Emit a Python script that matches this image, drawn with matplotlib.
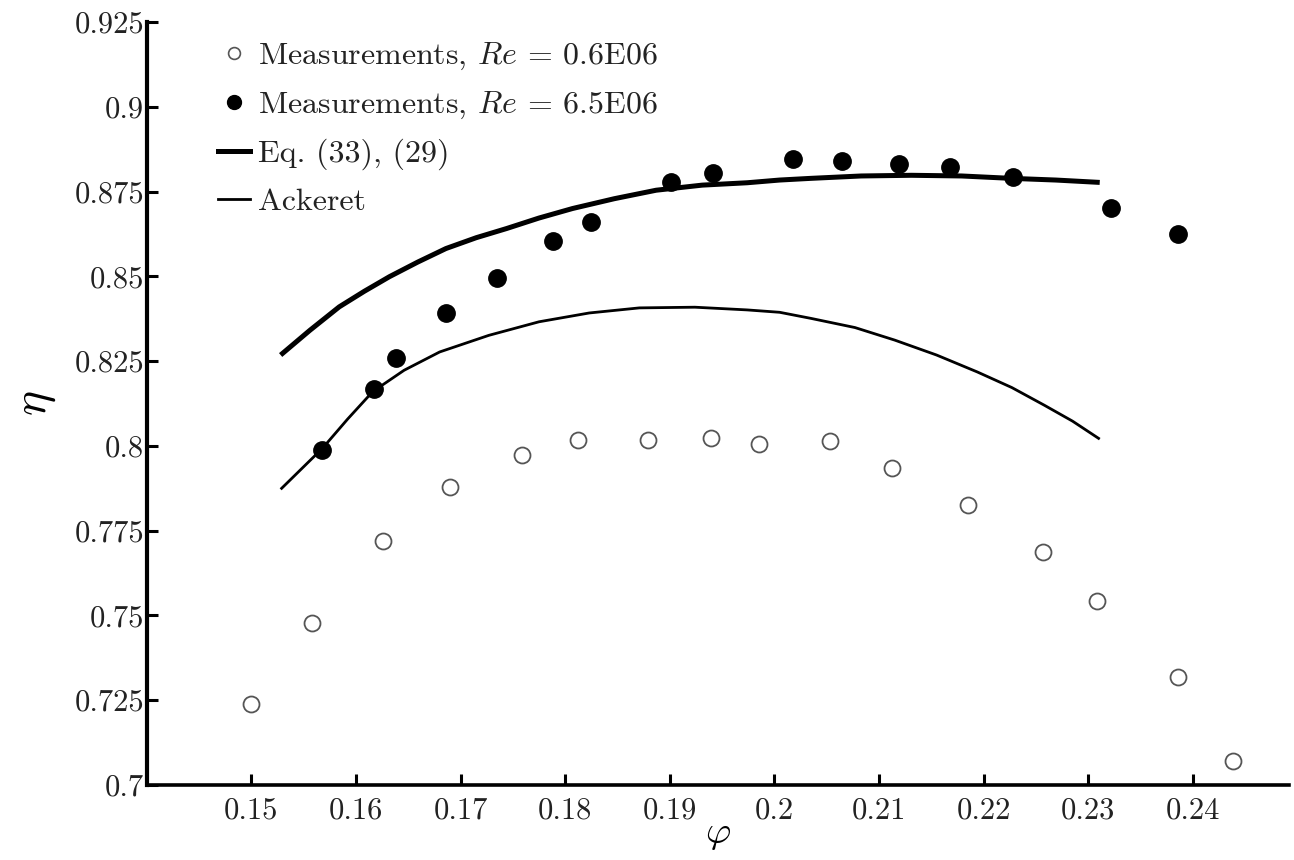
import matplotlib
matplotlib.use("Agg")
import matplotlib.pyplot as plt
from matplotlib.lines import Line2D

# ---- data ----
phi_low = [0.1500, 0.1558, 0.1626, 0.1690, 0.1759, 0.1812, 0.1879, 0.1939,
           0.1985, 0.2053, 0.2112, 0.2185, 0.2257, 0.2308, 0.2386, 0.2438]
eta_low = [0.7238, 0.7478, 0.7720, 0.7878, 0.7973, 0.8017, 0.8017, 0.8024,
           0.8007, 0.8014, 0.7934, 0.7825, 0.7686, 0.7543, 0.7319, 0.7072]

phi_high = [0.1568, 0.1617, 0.1638, 0.1686, 0.1735, 0.1788, 0.1825, 0.1901,
            0.1941, 0.2018, 0.2065, 0.2119, 0.2168, 0.2228, 0.2322, 0.2386]
eta_high = [0.7988, 0.8167, 0.8258, 0.8391, 0.8496, 0.8604, 0.8661, 0.8777,
            0.8805, 0.8846, 0.8841, 0.8831, 0.8821, 0.8793, 0.8702, 0.8624]

phi_eq = [0.1528, 0.1556, 0.1584, 0.1608, 0.1632, 0.1659, 0.1686, 0.1715,
          0.1744, 0.1775, 0.1807, 0.1847, 0.1887, 0.1931, 0.1974, 0.2005,
          0.2035, 0.2083, 0.2131, 0.2179, 0.2226, 0.2269, 0.2311]
eta_eq = [0.8268, 0.8341, 0.8410, 0.8456, 0.8499, 0.8542, 0.8582, 0.8614,
          0.8641, 0.8672, 0.8700, 0.8729, 0.8754, 0.8769, 0.8776, 0.8784,
          0.8789, 0.8796, 0.8798, 0.8796, 0.8789, 0.8784, 0.8777]

phi_ack = [0.1528, 0.1568, 0.1592, 0.1616, 0.1646, 0.1680, 0.1727, 0.1775,
           0.1823, 0.1871, 0.1924, 0.1974, 0.2005, 0.2035, 0.2077, 0.2115,
           0.2155, 0.2194, 0.2227, 0.2258, 0.2285, 0.2311]
eta_ack = [0.7872, 0.7993, 0.8079, 0.8160, 0.8223, 0.8277, 0.8326, 0.8366,
           0.8392, 0.8407, 0.8409, 0.8401, 0.8394, 0.8376, 0.8349, 0.8312,
           0.8268, 0.8218, 0.8172, 0.8120, 0.8073, 0.8020]

xticks = [0.15, 0.16, 0.17, 0.18, 0.19, 0.20, 0.21, 0.22, 0.23, 0.24]
xticklabels = ["0.15", "0.16", "0.17", "0.18", "0.19", "0.2", "0.21", "0.22", "0.23", "0.24"]
yticks = [0.7, 0.725, 0.75, 0.775, 0.8, 0.825, 0.85, 0.875, 0.9, 0.925]
yticklabels = ["0.7", "0.725", "0.75", "0.775", "0.8", "0.825", "0.85", "0.875", "0.9", "0.925"]

labels = ["Measurements, $Re$ = 0.6E06", "Measurements, $Re$ = 6.5E06",
          "Eq. (33), (29)", "Ackeret"]

# ---- style ----
plt.rcParams["font.family"] = ["cmr10", "DejaVu Serif"]
plt.rcParams["mathtext.fontset"] = "cm"
plt.rcParams["axes.unicode_minus"] = False

fig = plt.figure(figsize=(12.94, 8.6), dpi=100)
ax = fig.add_axes([0.1134, 0.0872, 0.8828, 0.8872])

txtcol = "#222222"

ax.plot(phi_eq, eta_eq, color="black", lw=3.6, solid_capstyle="butt",
        solid_joinstyle="round", zorder=2)
ax.plot(phi_ack, eta_ack, color="black", lw=2.0, solid_capstyle="butt",
        solid_joinstyle="round", zorder=2)
ax.plot(phi_low, eta_low, linestyle="none", marker="o", ms=11.5,
        mfc="white", mec="#555555", mew=1.3, zorder=3)
ax.plot(phi_high, eta_high, linestyle="none", marker="o", ms=12.5,
        mfc="black", mec="black", zorder=3)

ax.set_xlim(0.14, 0.2492)
ax.set_ylim(0.7, 0.925)

ax.spines["top"].set_visible(False)
ax.spines["right"].set_visible(False)
ax.spines["left"].set_linewidth(3.0)
ax.spines["bottom"].set_linewidth(2.6)

ax.set_xticks(xticks)
ax.set_xticklabels(xticklabels)
ax.set_yticks(yticks)
ax.set_yticklabels(yticklabels)
ax.tick_params(axis="both", direction="in", length=8, width=2.2,
               labelsize=22, labelcolor=txtcol)
ax.tick_params(axis="x", pad=9)
ax.tick_params(axis="y", pad=2)

ax.set_xlabel(r"$\varphi$", fontsize=28, labelpad=-6)
ax.set_ylabel(r"$\eta$", fontsize=34, labelpad=12)

handles = [
    Line2D([], [], linestyle="none", marker="o", ms=8.5, mfc="white", mec="#555555", mew=1.2),
    Line2D([], [], linestyle="none", marker="o", ms=10, mfc="black", mec="black"),
    Line2D([], [], color="black", lw=3.6),
    Line2D([], [], color="black", lw=2.0),
]
leg = ax.legend(handles, labels, loc="upper left", bbox_to_anchor=(0.0624, 0.975),
                frameon=False, fontsize=23, handlelength=1.0, handletextpad=0.25,
                labelspacing=0.55, borderpad=0, borderaxespad=0)
for t in leg.get_texts():
    t.set_color(txtcol)

fig.savefig("out.png", dpi=100)
